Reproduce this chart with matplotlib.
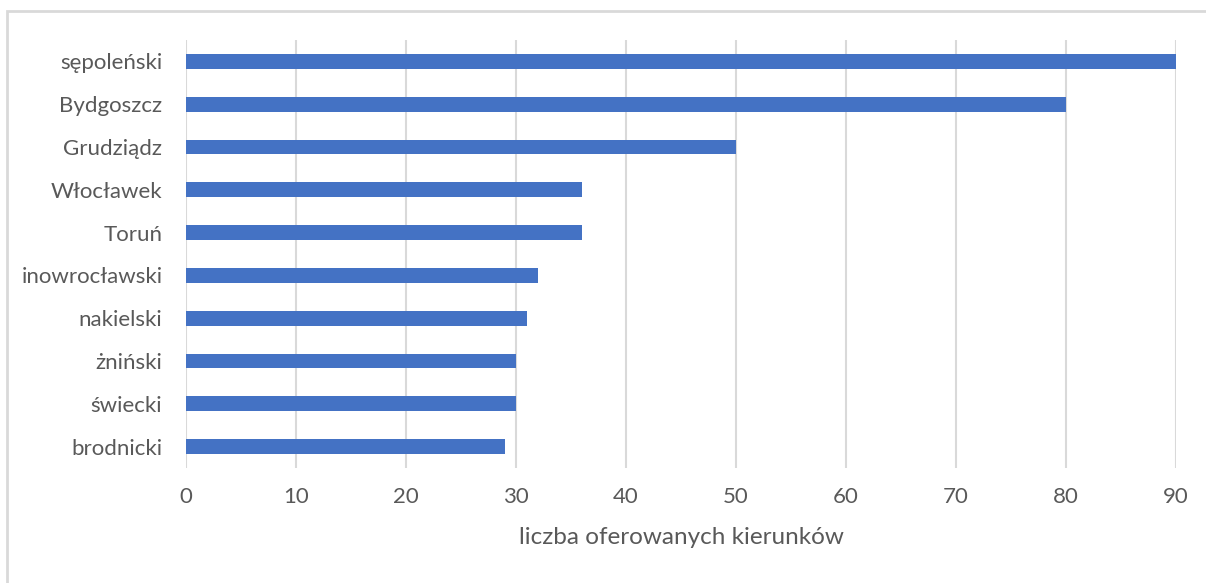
import matplotlib
matplotlib.use("Agg")
import matplotlib.pyplot as plt
from matplotlib.patches import Rectangle

# data (top to bottom as in the chart)
regions = ["sępoleński", "Bydgoszcz", "Grudziądz", "Włocławek", "Toruń",
           "inowrocławski", "nakielski", "żniński", "świecki", "brodnicki"]
counts = [90, 80, 50, 36, 36, 32, 31, 30, 30, 29]
x_ticks = [0, 10, 20, 30, 40, 50, 60, 70, 80, 90]
x_label = "liczba oferowanych kierunków"

text_color = "#595959"
grid_color = "#d9d9d9"
bar_color = "#4472C4"

plt.rcParams["font.family"] = ["Lato", "DejaVu Sans"]

fig = plt.figure(figsize=(12.06, 5.83), dpi=100)
ax = fig.add_axes([186 / 1206, 1 - 468 / 583, (1176 - 186) / 1206, (468 - 40) / 583])

# light frame around the chart area
fig.patches.append(Rectangle((7 / 1206, -0.1), 1.2, 1 - 11 / 583 + 0.1,
                             transform=fig.transFigure, fill=False,
                             edgecolor=grid_color, linewidth=2))

pos = list(range(len(regions)))[::-1]
ax.barh(pos, counts, height=0.35, color=bar_color, zorder=3)

ax.set_xlim(0, 90)
ax.set_ylim(-0.5, len(regions) - 0.5)
ax.set_xticks(x_ticks)
ax.set_yticks(pos)
ax.set_yticklabels(regions)
ax.xaxis.grid(True, color=grid_color, linewidth=1.5, zorder=0)
ax.tick_params(axis="both", length=0, labelsize=16, labelcolor=text_color)
ax.tick_params(axis="x", pad=14)
ax.tick_params(axis="y", pad=17)
for s in ax.spines.values():
    s.set_visible(False)
ax.set_xlabel(x_label, fontsize=17.5, color=text_color, labelpad=14)

fig.savefig("out.png", dpi=100)
